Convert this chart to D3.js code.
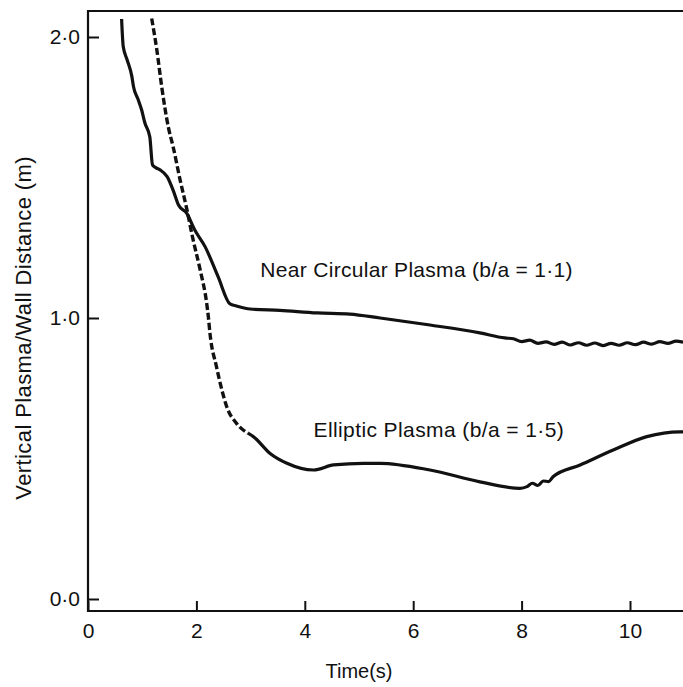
<!DOCTYPE html>
<html>
<head>
<meta charset="utf-8">
<script src="https://cdn.jsdelivr.net/npm/d3@7"></script>
<style>
  body { margin: 0; background: #fff; }
  text { font-family: "Liberation Sans", Arial, sans-serif; fill: #111; }
</style>
</head>
<body>
<div id="chart"></div>
<script>
// time (s) and distance (m)
const nearT = [0.62, 0.65, 0.72, 0.81, 0.84, 0.92, 0.99, 1.05, 1.14, 1.19, 1.25, 1.33, 1.46, 1.58, 1.67, 1.82, 1.97, 2.16, 2.40, 2.62, 2.74,
  2.99, 3.54, 4.23, 4.83, 5.39, 6.31, 7.23, 7.69, 7.85, 8.0, 8.15, 8.3, 8.45, 8.6, 8.75, 8.9, 9.05, 9.2, 9.35, 9.5, 9.65, 9.8, 9.95, 10.1, 10.25, 10.4, 10.55, 10.7, 10.85, 10.98];
const nearV = [2.064, 1.966, 1.92, 1.859, 1.823, 1.78, 1.74, 1.694, 1.645, 1.545, 1.535, 1.527, 1.503, 1.45, 1.402, 1.373, 1.313, 1.254, 1.147, 1.050, 1.043,
  1.032, 1.027, 1.018, 1.014, 1.000, 0.975, 0.947, 0.929, 0.926, 0.916, 0.921, 0.910, 0.915, 0.906, 0.914, 0.904, 0.912, 0.903, 0.911, 0.902, 0.910, 0.903, 0.912, 0.905, 0.914, 0.907, 0.916, 0.910, 0.918, 0.914];

const ellT = [1.175, 1.27, 1.36, 1.48, 1.57, 1.70, 1.82, 1.94, 2.07, 2.19, 2.22, 2.25, 2.37, 2.47, 2.56, 2.74, 2.95,
  3.05, 3.36, 3.67, 4.16, 4.53, 5.08, 5.39, 6.31, 7.23, 7.97, 8.1, 8.2, 8.3, 8.4, 8.5, 8.58, 9.08, 9.69, 10.31, 10.92, 10.98];
const ellV = [2.066, 1.954, 1.823, 1.681, 1.610, 1.491, 1.390, 1.278, 1.171, 1.052, 1.005, 0.946, 0.827, 0.744, 0.684, 0.625, 0.590,
  0.578, 0.518, 0.483, 0.459, 0.477, 0.483, 0.483, 0.459, 0.417, 0.394, 0.400, 0.412, 0.404, 0.420, 0.418, 0.435, 0.477, 0.530, 0.578, 0.595, 0.595];
const ellDashedUntil = 2.95;

const xTicks = [0, 2, 4, 6, 8, 10];
const yTicks = [0, 1, 2];

const W = 683, H = 687;
const plotLeft = 88, plotRight = 683, plotTop = 11, plotBottom = 611;

const x = d3.scaleLinear().domain([0, 10]).range([88, 630]);
const y = d3.scaleLinear().domain([0, 2]).range([599, 37]);

const svg = d3.select("#chart").append("svg")
  .attr("width", W).attr("height", H);

const fmt = d => d.toFixed(1).replace(".", "\u00b7");

// y axis
const yAxis = svg.append("g")
  .attr("transform", "translate(" + plotLeft + ",0)")
  .call(d3.axisLeft(y).tickValues(yTicks).tickSizeInner(-11).tickSizeOuter(0).tickPadding(8).tickFormat(fmt));
yAxis.select(".domain").remove();
yAxis.selectAll("line").attr("stroke", "#111").attr("stroke-width", 2);
yAxis.selectAll("text").style("font-size", "21px");

// x axis
const xAxis = svg.append("g")
  .attr("transform", "translate(0," + plotBottom + ")")
  .call(d3.axisBottom(x).tickValues(xTicks).tickSizeInner(-10).tickSizeOuter(0).tickPadding(12).tickFormat(d3.format("d")));
xAxis.select(".domain").remove();
xAxis.selectAll("line").attr("stroke", "#111").attr("stroke-width", 2);
xAxis.selectAll("text").style("font-size", "21px");

// frame: left, bottom, top
svg.append("path")
  .attr("d", "M" + plotRight + "," + plotTop + "H" + plotLeft + "V" + plotBottom + "H" + plotRight)
  .attr("fill", "none").attr("stroke", "#111").attr("stroke-width", 2.2);

const line = d3.line()
  .x(d => x(d[0]))
  .y(d => y(d[1]))
  .curve(d3.curveMonotoneX);

const near = nearT.map((t, i) => [t, nearV[i]]);
const ell = ellT.map((t, i) => [t, ellV[i]]);

svg.append("path")
  .datum(near)
  .attr("d", line)
  .attr("fill", "none").attr("stroke", "#111").attr("stroke-width", 3.2).attr("stroke-linejoin", "round");

svg.append("path")
  .datum(ell.filter(d => d[0] <= ellDashedUntil))
  .attr("d", line)
  .attr("fill", "none").attr("stroke", "#111").attr("stroke-width", 3.4).attr("stroke-dasharray", "7,3");

svg.append("path")
  .datum(ell.filter(d => d[0] >= ellDashedUntil))
  .attr("d", line)
  .attr("fill", "none").attr("stroke", "#111").attr("stroke-width", 3.2).attr("stroke-linejoin", "round");

// curve labels
svg.append("text")
  .attr("x", x(3.18)).attr("y", y(1.147))
  .style("font-size", "21px").style("letter-spacing", "0.3px")
  .text("Near Circular Plasma (b/a = 1\u00b71)");

svg.append("text")
  .attr("x", x(4.16)).attr("y", y(0.575))
  .style("font-size", "21px").style("letter-spacing", "0.4px")
  .text("Elliptic Plasma (b/a = 1\u00b75)");

// axis titles
svg.append("text")
  .attr("x", x(5.0)).attr("y", 678)
  .attr("text-anchor", "middle")
  .style("font-size", "20px")
  .text("Time(s)");

svg.append("text")
  .attr("transform", "translate(31," + y(0.965) + ") rotate(-90)")
  .attr("text-anchor", "middle")
  .style("font-size", "22px").style("letter-spacing", "0.4px")
  .text("Vertical Plasma/Wall Distance (m)");
</script>
</body>
</html>
